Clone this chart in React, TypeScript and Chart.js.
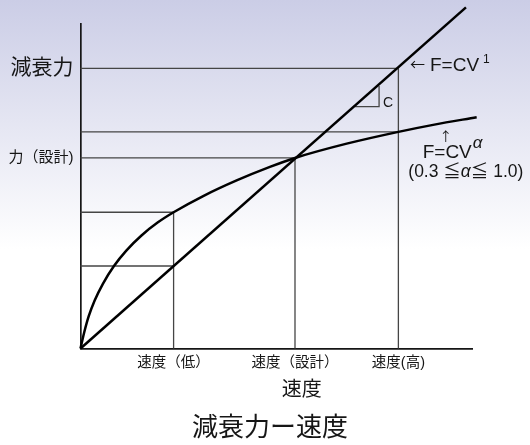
import React, { useEffect, useRef } from 'react';
import { Chart, registerables } from 'chart.js';

Chart.register(...registerables);

// Tick positions on both axes (design point normalised to 1)
const velocityTicks = [0.434, 1, 1.482];
const velocityLabels = ['速度（低）', '速度（設計）', '速度(高)'];
const forceTicks = [1, 1.47];
const forceLabels = ['力（設計)', '減衰力'];

// F = CV^1 (linear damper)
const linearV = [0, 1.797];
const linearF = [0, 1.79];

// F = CV^α (non-linear damper)
const curveV = [0, 0.0163, 0.038, 0.066, 0.105, 0.156, 0.2135, 0.283, 0.361, 0.434, 0.572, 0.728, 0.883, 1, 1.241, 1.482, 1.65, 1.847];
const curveF = [0, 0.08, 0.168, 0.252, 0.341, 0.433, 0.514, 0.592, 0.662, 0.715, 0.8, 0.882, 0.953, 1, 1.075, 1.137, 1.175, 1.214];

// Levels used by the thin guide lines
const vLow = 0.434;
const vDesign = 1;
const vHigh = 1.482;
const fLowLinear = 0.433;
const fLowCurve = 0.715;
const fDesign = 1;
const fHighCurve = 1.137;
const fHighLinear = 1.47;

// Slope triangle marking C
const slopeV = [1.28, 1.392, 1.392];
const slopeF = [1.269, 1.269, 1.378];

const V_MAX = 1.828;
const F_MAX = 1.703;

const FONT = "'Liberation Sans', 'Noto Sans CJK JP', sans-serif";
const CJK = "'Noto Sans CJK JP', sans-serif";
const INK = '#161616';
const GUIDE = '#454545';

const pts = (xs: number[], ys: number[]) => xs.map((x, i) => ({ x, y: ys[i] }));

const guideSegments: [number, number, number, number][] = [
  [0, fHighLinear, vHigh, fHighLinear],
  [0, fHighCurve, vHigh, fHighCurve],
  [0, fDesign, vDesign, fDesign],
  [0, fLowCurve, vLow, fLowCurve],
  [0, fLowLinear, vLow, fLowLinear],
  [vLow, 0, vLow, fLowCurve],
  [vDesign, 0, vDesign, fDesign],
  [vHigh, 0, vHigh, fHighLinear],
];

const figureText = {
  id: 'figureText',
  afterDraw(chart: any) {
    const { ctx } = chart;
    ctx.save();
    ctx.fillStyle = INK;
    const put = (
      text: string,
      x: number,
      y: number,
      size: number,
      align: CanvasTextAlign = 'left',
      baseline: CanvasTextBaseline = 'alphabetic',
      italic = false,
      family = FONT,
    ) => {
      ctx.font = `${italic ? 'italic ' : ''}${size}px ${family}`;
      ctx.textAlign = align;
      ctx.textBaseline = baseline;
      ctx.fillText(text, x, y);
      return ctx.measureText(text).width;
    };

    // F=CV^1 label
    put('←', 417.5, 64, 15, 'center', 'middle', false, CJK);
    const w1 = put('F=CV', 430, 71, 19);
    put('1', 430 + w1 + 4, 63, 12);

    // slope C
    put('C', 383, 106.5, 14);

    // F=CV^α label
    put('↑', 445.7, 136, 13, 'center', 'middle', false, CJK);
    const w2 = put('F=CV', 422.7, 157.7, 19);
    put('α', 422.7 + w2 + 1, 148, 17, 'left', 'alphabetic', true);

    let x = 408.3;
    const s = 17.5;
    x += put('(0.3 ', x, 177, s);
    x += put('≦', x, 177, s);
    x += put('α', x, 177, s, 'left', 'alphabetic', true);
    x += put('≦', x, 177, s);
    put(' 1.0)', x, 177, s);

    // axis title and figure title
    put('速度', 301.7, 390.5, 20, 'center', 'middle');
    put('減衰力ー速度', 270, 429, 26, 'center', 'middle');
    ctx.restore();
  },
};

export default function App() {
  const canvasRef = useRef<HTMLCanvasElement | null>(null);

  useEffect(() => {
    if (!canvasRef.current) return;
    const lineBase = {
      type: 'line' as const,
      pointRadius: 0,
      pointHoverRadius: 0,
      fill: false,
      clip: false as any,
      tension: 0,
    };
    const datasets: any[] = [
      { ...lineBase, label: 'F=CV^α', data: pts(curveV, curveF), borderColor: '#000', borderWidth: 2.5, cubicInterpolationMode: 'monotone' },
      { ...lineBase, label: 'F=CV^1', data: pts(linearV, linearF), borderColor: '#000', borderWidth: 2.5 },
      { ...lineBase, label: 'C', data: pts(slopeV, slopeF), borderColor: GUIDE, borderWidth: 1.3 },
      ...guideSegments.map(([x1, y1, x2, y2]) => ({
        ...lineBase,
        label: 'guide',
        data: [{ x: x1, y: y1 }, { x: x2, y: y2 }],
        borderColor: GUIDE,
        borderWidth: 1.3,
      })),
    ];

    const chart = new Chart(canvasRef.current, {
      type: 'line',
      data: { datasets },
      options: {
        animation: false,
        responsive: false,
        devicePixelRatio: 1,
        events: [],
        layout: { padding: { left: 0, top: 24, right: 57.4, bottom: 0 } },
        plugins: { legend: { display: false }, tooltip: { enabled: false }, title: { display: false } },
        scales: {
          x: {
            type: 'linear',
            min: 0,
            max: V_MAX,
            grid: { display: false, drawTicks: false },
            border: { display: true, color: INK, width: 1.7 },
            afterBuildTicks: (sc: any) => { sc.ticks = velocityTicks.map((v) => ({ value: v })); },
            afterFit: (sc: any) => { sc.height = 96.5; },
            ticks: {
              autoSkip: false,
              maxRotation: 0,
              padding: 6,
              color: INK,
              font: { family: FONT, size: 14.5 },
              callback: (_v: any, i: number) => velocityLabels[i],
            },
          },
          y: {
            type: 'linear',
            min: 0,
            max: F_MAX,
            grid: { display: false, drawTicks: false },
            border: { display: true, color: INK, width: 1.7 },
            afterBuildTicks: (sc: any) => { sc.ticks = forceTicks.map((v) => ({ value: v })); },
            afterFit: (sc: any) => { sc.width = 80.5; },
            ticks: {
              autoSkip: false,
              padding: 7,
              color: INK,
              font: (c: any) => ({ family: FONT, size: c.tick && c.tick.value > 1.2 ? 21 : 15 }),
              callback: (_v: any, i: number) => forceLabels[i],
            },
          },
        },
      },
      plugins: [figureText],
    });
    return () => chart.destroy();
  }, []);

  return (
    <div
      style={{
        position: 'absolute',
        left: 0,
        top: 0,
        width: 530,
        height: 445,
        background: 'linear-gradient(to bottom, #cbcde6 0%, #ffffff 56%, #ffffff 100%)',
      }}
    >
      <canvas ref={canvasRef} width={530} height={445} style={{ display: 'block', width: 530, height: 445 }} />
    </div>
  );
}
